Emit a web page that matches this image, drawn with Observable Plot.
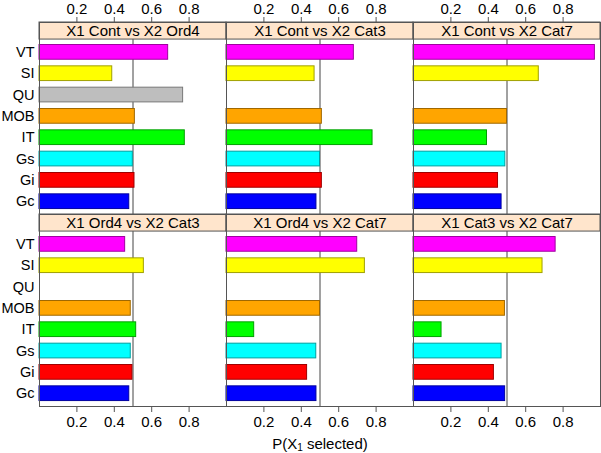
<!DOCTYPE html>
<html>
<head>
<meta charset="utf-8">
<script src="https://cdn.jsdelivr.net/npm/d3@7"></script>
<script src="https://cdn.jsdelivr.net/npm/@observablehq/plot@0.6"></script>
<style>
  html, body { margin: 0; padding: 0; background: #fff; }
  body { font-family: "Liberation Sans", Arial, sans-serif; width: 601px; height: 453px; overflow: hidden; }
  #chart svg { display: block; }
  #xlabel { width: 562px; margin-left: 39px; text-align: center; font-size: 15px; height: 18px; line-height: 18px; margin-top: 5px; color: #000; }
  #xlabel sub { font-size: 10px; vertical-align: -2px; line-height: 0; }
</style>
</head>
<body>
<div id="chart"></div>
<div id="xlabel">P(X<sub>1</sub> selected)</div>
<script>
// Categories (bottom to top)
const categories = ["Gc", "Gi", "Gs", "IT", "MOB", "QU", "SI", "VT"];
const colors = ["#0000ff", "#ff0000", "#00ffff", "#00ff00", "#ffa500", "#bebebe", "#ffff00", "#ff00ff"];
const panelTitles = [
  "X1 Cont vs X2 Ord4", "X1 Cont vs X2 Cat3", "X1 Cont vs X2 Cat7",
  "X1 Ord4 vs X2 Cat3", "X1 Ord4 vs X2 Cat7", "X1 Cat3 vs X2 Cat7"
];
// values in category order: Gc, Gi, Gs, IT, MOB, QU, SI, VT
const contOrd4 = [0.48, 0.508, 0.499, 0.777, 0.51, 0.768, 0.389, 0.688];
const contCat3 = [0.481, 0.51, 0.5, 0.781, 0.51, null, 0.471, 0.681];
const contCat7 = [0.471, 0.452, 0.491, 0.393, 0.5, null, 0.67, 0.97];
const ord4Cat3 = [0.48, 0.497, 0.488, 0.517, 0.488, null, 0.558, 0.458];
const ord4Cat7 = [0.481, 0.431, 0.48, 0.148, 0.5, null, 0.74, 0.699];
const cat3Cat7 = [0.49, 0.43, 0.471, 0.15, 0.489, null, 0.69, 0.76];
const panelValues = [contOrd4, contCat3, contCat7, ord4Cat3, ord4Cat7, cat3Cat7];
const xTicks = [0.2, 0.4, 0.6, 0.8];
const refValue = 0.5;

const panels = panelTitles.map((title, i) => ({title, row: Math.floor(i / 3), col: i % 3}));
const bars = [];
panelValues.forEach((vals, p) => {
  vals.forEach((v, i) => {
    if (v == null) return;
    bars.push({
      row: panels[p].row, col: panels[p].col, cat: categories[i], idx: i, value: v,
      color: colors[i], edge: d3.color(colors[i]).darker(1.3).formatHex()
    });
  });
});

const half = 0.345;       // half bar thickness in category units
const yLo = -0.6, yHi = categories.length - 1 + 0.6, stripTop = yHi + 0.8;
const refRows = panels.map(p => ({row: p.row, col: p.col, x: refValue}));

const chart = Plot.plot({
  width: 601,
  height: 430,
  marginLeft: 39,
  marginRight: 1,
  marginTop: 21,
  marginBottom: 24,
  style: {fontFamily: "'Liberation Sans', Arial, sans-serif", fontSize: "15px", color: "#000", background: "#fff"},
  fx: {axis: null, padding: 0, domain: [0, 1, 2]},
  fy: {axis: null, padding: 0, domain: [0, 1]},
  x: {domain: [0, 1], axis: null},
  y: {domain: [yLo, stripTop], axis: null},
  marks: [
    Plot.ruleX(refRows, {fx: "col", fy: "row", x: "x", y1: yLo, y2: yHi, stroke: "#444", strokeWidth: 1}),
    Plot.rect(bars, {
      fx: "col", fy: "row",
      x1: 0, x2: "value",
      y1: d => d.idx - half, y2: d => d.idx + half,
      fill: "color", stroke: "edge", strokeWidth: 1
    }),
    Plot.rect(panels, {
      fx: "col", fy: "row",
      x1: 0, x2: 1, y1: yHi, y2: stripTop,
      fill: "#ffe5cc", stroke: "#555", strokeWidth: 1
    }),
    Plot.text(panels, {
      fx: "col", fy: "row",
      x: 0.5, y: (yHi + stripTop) / 2, text: "title",
      fontSize: 15, fill: "#000"
    }),
    Plot.frame({stroke: "#555", strokeWidth: 1}),
    Plot.axisX({anchor: "top", facetAnchor: "top", ticks: xTicks, tickSize: 6, tickPadding: 3, fontSize: 15, label: null, stroke: "#555"}),
    Plot.axisX({anchor: "bottom", facetAnchor: "bottom", ticks: xTicks, tickSize: 6, tickPadding: 4, fontSize: 15, label: null, stroke: "#555"}),
    Plot.axisY({anchor: "left", facetAnchor: "left", ticks: d3.range(categories.length), tickFormat: i => categories[i], tickSize: 0, tickPadding: 5, fontSize: 14.5, label: null})
  ]
});
document.getElementById("chart").appendChild(chart);
</script>
</body>
</html>
